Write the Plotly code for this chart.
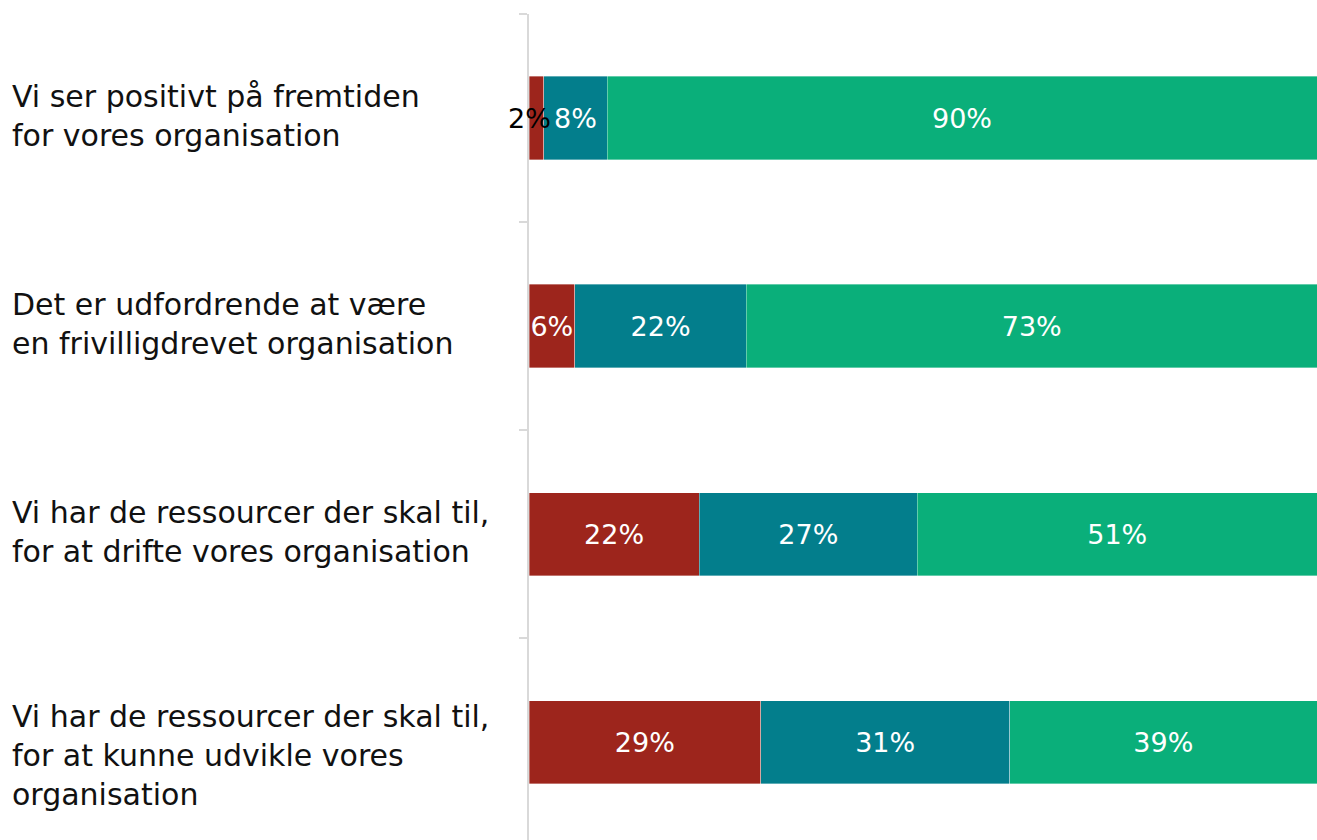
import plotly.graph_objects as go

categories = [
    "Vi ser positivt på fremtiden<br>for vores organisation",
    "Det er udfordrende at være<br>en frivilligdrevet organisation",
    "Vi har de ressourcer der skal til,<br>for at drifte vores organisation",
    "Vi har de ressourcer der skal til,<br>for at kunne udvikle vores<br>organisation",
]
series_names = ["Uenig", "Hverken/eller", "Enig"]
red_vals = [1.9, 5.8, 21.6, 29.4]
blue_vals = [8.0, 21.8, 27.7, 31.6]
green_vals = [90.1, 72.4, 50.7, 39.0]
red_labels = ["2%", "6%", "22%", "29%"]
blue_labels = ["8%", "22%", "27%", "31%"]
green_labels = ["90%", "73%", "51%", "39%"]

colors = ["#9D251C", "#037E8C", "#0AAF7A"]
FONT = "DejaVu Sans"
SMALL = 3  # segments narrower than this get their label drawn on top, in black

ypos = list(range(len(categories)))
fig = go.Figure()
for name, vals, labels, col in zip(series_names, [red_vals, blue_vals, green_vals],
                                   [red_labels, blue_labels, green_labels], colors):
    shown = ["" if v < SMALL else t for v, t in zip(vals, labels)]
    fig.add_trace(go.Bar(
        y=ypos, x=vals, orientation="h", name=name,
        marker=dict(color=col, line=dict(color="rgba(255,255,255,0.6)", width=0.6)),
        text=shown, textposition="inside", insidetextanchor="middle",
        textangle=0, constraintext="none", cliponaxis=False,
        textfont=dict(family=FONT, size=27, color="#ffffff"),
        hoverinfo="skip",
    ))

# small first-segment labels, drawn above the bars in black
for i, (v, t) in enumerate(zip(red_vals, red_labels)):
    if v < SMALL:
        fig.add_annotation(x=0, xref="x", y=i, yref="y", text=t, showarrow=False,
                           xanchor="center", yanchor="middle",
                           font=dict(family=FONT, size=27, color="#000000"))

for i, cat in enumerate(categories):
    nlines = cat.count("<br>") + 1
    fig.add_annotation(
        x=-(529 - 10) / 788, xref="paper", y=i, yref="y",
        text=cat, showarrow=False, xanchor="left", yanchor="middle", align="left",
        font=dict(family=FONT, size=30, color="#111111"),
        yshift=-13 if nlines > 2 else 2,
    )

fig.update_layout(
    width=1317, height=840,
    margin=dict(l=529, r=0, t=14, b=0),
    barmode="stack", bargap=0.6,
    showlegend=False,
    plot_bgcolor="white", paper_bgcolor="white",
    uniformtext=dict(minsize=27, mode="show"),
    xaxis=dict(range=[0, 100], visible=False, fixedrange=True),
    yaxis=dict(range=[3.47, -0.5], tickvals=[-0.5, 0.5, 1.5, 2.5], ticktext=["", "", "", ""],
               ticks="outside", ticklen=8, tickwidth=2, tickcolor="#d9d9d9",
               showline=True, linecolor="#d9d9d9", linewidth=2,
               showgrid=False, zeroline=False, fixedrange=True),
)

fig.write_html("out.html", config={"displayModeBar": False},
               post_script="document.body.style.margin='0';document.body.style.overflow='hidden';")
